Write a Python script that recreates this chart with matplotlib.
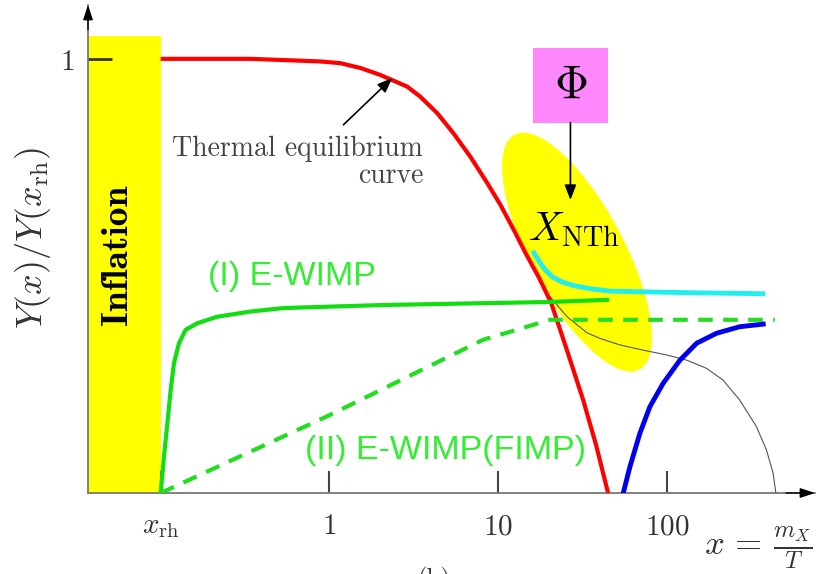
import matplotlib
matplotlib.use("Agg")
import matplotlib.pyplot as plt
from matplotlib.patches import Ellipse, Rectangle
from matplotlib.transforms import ScaledTranslation

plt.rcParams['mathtext.fontset'] = 'cm'

# ---- data (x = m_X / T, Y normalised to Y(x_rh)) ----
x_rh = 0.1
xtick_vals = [0.1, 1, 10, 100]
xtick_labels = [r'$x_{\rm rh}$', r'$1$', r'$10$', r'$100$']

eq_x = [0.1, 0.341, 0.885, 1.162, 1.525, 2.00, 2.89, 3.45, 4.35, 5.42, 6.83, 8.61,
        10.3, 12.3, 14.6, 17.5, 20.6, 25.3, 31.9, 38.0, 44.8]
eq_y = [1.0, 1.0, 0.994, 0.990, 0.979, 0.963, 0.936, 0.913, 0.875, 0.829, 0.775, 0.714,
        0.664, 0.608, 0.551, 0.495, 0.438, 0.334, 0.214, 0.111, 0.0]

ewimp_x = [0.1, 0.1046, 0.1096, 0.1146, 0.1199, 0.1284, 0.1406, 0.1648, 0.216, 0.341,
           0.534, 2.09, 20.3, 44.2]
ewimp_y = [0.0, 0.084, 0.161, 0.237, 0.299, 0.345, 0.376, 0.391, 0.406, 0.418,
           0.426, 0.433, 0.440, 0.445]

fimp_x = [0.1, 0.973, 8.15, 12.9, 20.3, 436]
fimp_y = [0.0, 0.177, 0.353, 0.376, 0.399, 0.399]

nth_x = [16.3, 17.7, 19.0, 20.9, 23.9, 28.6, 35.9, 46.0, 79.3, 157, 370]
nth_y = [0.553, 0.530, 0.514, 0.498, 0.486, 0.477, 0.470, 0.465, 0.463, 0.461, 0.459]

late_x = [55.1, 60.4, 69.2, 79.3, 95.1, 119.4, 150, 197, 270, 372]
late_y = [0.0, 0.061, 0.138, 0.199, 0.253, 0.306, 0.345, 0.368, 0.383, 0.389]

thin_x = [20.3, 25.6, 33.6, 40.1, 52.7, 72.4, 99.5, 131, 172, 215, 270, 339, 389, 426, 442]
thin_y = [0.452, 0.406, 0.369, 0.356, 0.341, 0.329, 0.318, 0.306, 0.287, 0.260, 0.214,
          0.153, 0.099, 0.045, 0.0]

inflation_top = 1.053

fig = plt.figure(figsize=(8.19, 5.74), dpi=100)
W, H = 819, 574
left, right, bottom, top = 88, 815, 493, 5
ax = fig.add_axes([left / W, 1 - bottom / H, (right - left) / W, (bottom - top) / H])
ax.set_xscale('log')
ax.set_xlim(0.0371, 754)
ax.set_ylim(0, 1.124)

# inflation band
ax.fill_between([0.0371, x_rh], 0, inflation_top, color='#ffff00', lw=0, zorder=1)
ax.text(0.0555, 0.548, 'Inflation', rotation=90, ha='center', va='center',
        family='cmb10', fontsize=27, color='k', zorder=5)

# non-thermal production region
ell_tr = fig.dpi_scale_trans + ScaledTranslation(29.3, 0.555, ax.transData)
ax.add_patch(Ellipse((0, 0), 0.94, 2.66, angle=28, transform=ell_tr,
                     facecolor='#ffff00', edgecolor='none', zorder=2))

ax.plot(thin_x, thin_y, color='#555555', lw=0.8, zorder=3)
ax.plot(eq_x, eq_y, color='#ff0000', lw=3, zorder=4, solid_capstyle='butt',
        solid_joinstyle='round')
ax.plot(ewimp_x, ewimp_y, color='#11dd11', lw=3, zorder=4, solid_joinstyle='round')
ax.plot(fimp_x, fimp_y, color='#22dd22', lw=3, ls=(0, (3.5, 2.5)), zorder=4)
ax.plot(nth_x, nth_y, color='#22eeee', lw=3.5, zorder=4, solid_joinstyle='round')
ax.plot(late_x, late_y, color='#0000ee', lw=3.5, zorder=4, solid_joinstyle='round')

# Phi box and arrow
box_tr = fig.dpi_scale_trans + ScaledTranslation(26.8, 0.939, ax.transData)
ax.add_patch(Rectangle((-0.375, -0.375), 0.75, 0.75, transform=box_tr,
                       facecolor='#ff88ff', edgecolor='none', zorder=5, clip_on=False))
ax.text(26.8, 0.939, r'$\Phi$', ha='center', va='center', fontsize=34, zorder=6)
ax.annotate('', xy=(26.8, 0.675), xytext=(26.8, 0.853),
            arrowprops=dict(arrowstyle='-|>,head_length=0.9,head_width=0.35',
                            color='k', lw=1.2, shrinkA=0, shrinkB=0), zorder=6)
ax.text(28.3, 0.608, r'$X_{\rm NTh}$', ha='center', va='center', fontsize=29, zorder=6)

# thermal equilibrium annotation
ax.annotate('', xy=(2.36, 0.956), xytext=(1.21, 0.848),
            arrowprops=dict(arrowstyle='-|>,head_length=0.9,head_width=0.35',
                            color='k', lw=1.2, shrinkA=0, shrinkB=0), zorder=6)
ax.text(3.60, 0.822, 'Thermal equilibrium\ncurve', ha='right', va='top',
        multialignment='right', family='cmr10', fontsize=20, color='#444444',
        linespacing=1.0, zorder=6)

ax.text(0.192, 0.498, '(I) E-WIMP', ha='left', va='center', family='Liberation Sans',
        fontsize=24.5, color='#33ee33', zorder=6)
ax.text(0.721, 0.099, '(II) E-WIMP(FIMP)', ha='left', va='center', family='Liberation Sans',
        fontsize=24.5, color='#33ee33', zorder=6)

# axes styling
for s in ['top', 'right']:
    ax.spines[s].set_visible(False)
for s in ['left', 'bottom']:
    ax.spines[s].set_color('#777777')
    ax.spines[s].set_linewidth(1.3)
ax.annotate('', xy=(0, 1), xytext=(0, 0.95), xycoords='axes fraction',
            arrowprops=dict(arrowstyle='-|>,head_length=0.9,head_width=0.3',
                            color='k', lw=1.0, shrinkA=0, shrinkB=0), annotation_clip=False)
ax.annotate('', xy=(1, 0), xytext=(0.96, 0), xycoords='axes fraction',
            arrowprops=dict(arrowstyle='-|>,head_length=0.9,head_width=0.3',
                            color='k', lw=1.0, shrinkA=0, shrinkB=0), annotation_clip=False)

ax.set_xticks(xtick_vals)
ax.set_xticklabels(xtick_labels)
ax.xaxis.set_minor_locator(matplotlib.ticker.NullLocator())
ax.tick_params(axis='x', direction='in', length=16, width=1.5, color='#444444',
               labelsize=21, pad=14, labelcolor='#333333')
ax.set_yticks([1])
ax.set_yticklabels([r'$1$'])
ax.tick_params(axis='y', direction='in', length=17, width=2, color='#333333',
               labelsize=21, pad=10, labelcolor='#333333')
for t in ax.xaxis.get_major_ticks() + ax.yaxis.get_major_ticks():
    t.tick1line.set_zorder(3)

fig.text(33 / W, 1 - 238 / H, r'$Y(x)/Y(x_{\rm rh})$', rotation=90, ha='center',
         va='center', fontsize=26, color='#333333')
fig.text(812 / W, 1 - 548 / H, r'$x\,=\,\frac{m_X}{T}$', ha='right', va='center',
         fontsize=25, color='#333333')
fig.text(434 / W, 1 - 567 / H, '(b)', ha='center', va='top', family='cmr10',
         fontsize=18, color='#333333')

fig.savefig('out.png', dpi=100)
